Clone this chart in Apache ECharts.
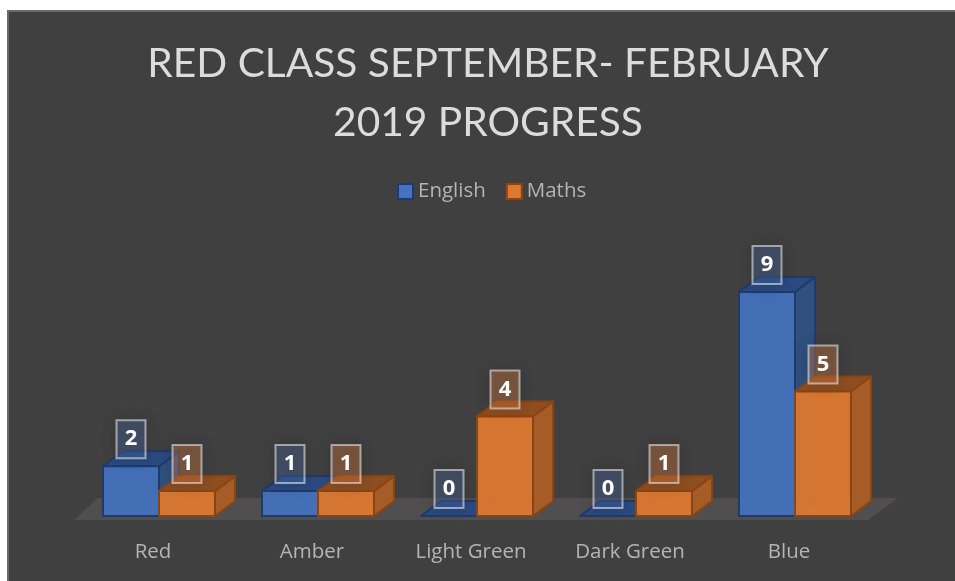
<!DOCTYPE html>
<html><head><meta charset="utf-8">
<style>html,body{margin:0;padding:0;background:#fff}#c{width:955px;height:581px}</style>
<script src="https://cdn.jsdelivr.net/npm/echarts@6/dist/echarts.min.js"></script>
</head><body><div id="c"></div>
<script>
const categories = ['Red','Amber','Light Green','Dark Green','Blue'];
const english = [2,1,0,0,9];
const maths = [1,1,4,1,5];
const titleText = 'RED CLASS SEPTEMBER- FEBRUARY\n2019 PROGRESS';

const DX = 20, DY = 15, BAR = 56/159;
const blue = {front:'rgba(66,112,185,0.96)', top:'#2b4a80', side:'#30507f', stroke:'#203a6c', lab:'rgba(80,120,190,0.3)'};
const orange = {front:'rgba(221,120,48,0.94)', top:'#8e4e20', side:'#a65c27', stroke:'#8b4513', lab:'rgba(237,135,70,0.35)'};

function poly(points, fill, stroke, z2, lw){
  return {type:'polygon', shape:{points}, z2,
    style:{fill, stroke, lineWidth:lw==null?2:lw, lineJoin:'round'}, silent:true};
}
function barRenderer(pal, dir, z){
  return function(params, api){
    const base = api.coord([api.value(0), 0]);
    const top = api.coord([api.value(0), api.value(1)]);
    const w = api.size([1,0])[0]*BAR;
    const x0 = dir<0 ? base[0]-w : base[0], x1 = x0+w, yb = base[1], yt = top[1];
    const kids = [];
    const zero = yt === yb;
    if(!zero){
      kids.push(poly([[x0+DX,yb-DY],[x1+DX,yb-DY],[x1+DX,yt-DY],[x0+DX,yt-DY]], 'rgba(0,0,0,0)', 'rgba(255,255,255,0.06)', z, 1));
      kids.push(poly([[x0,yb],[x0+DX,yb-DY],[x1+DX,yb-DY],[x1,yb]], 'rgba(255,255,255,0.04)', 'rgba(255,255,255,0.06)', z, 1));
      kids.push(poly([[x1,yb],[x1+DX,yb-DY],[x1+DX,yt-DY],[x1,yt]], pal.side, pal.stroke, z));
    }
    kids.push(poly([[x0,yt],[x0+DX,yt-DY],[x1+DX,yt-DY],[x1,yt]], pal.top, pal.stroke, z));
    if(!zero) kids.push(poly([[x0,yb],[x0,yt],[x1,yt],[x1,yb]], pal.front, pal.stroke, z));
    const cx = (x0+x1)/2, cy = yt-27;
    kids.push({type:'rect', shape:{x:cx-14.5,y:cy-19,width:29,height:38}, z2:20, silent:true,
      style:{fill:pal.lab, stroke:'rgba(225,225,225,0.62)', lineWidth:2, shadowBlur:14, shadowColor:'rgba(0,0,0,0.35)'}});
    kids.push({type:'text', z2:21, silent:true, x:cx, y:cy,
      style:{text:String(api.value(1)), fill:'#ffffff', font:'bold 22px "Open Sans"', align:'center', verticalAlign:'middle'}});
    return {type:'group', children:kids};
  };
}
function rows(a){ return a.map((v,i)=>[i,v]); }

const chart = echarts.init(document.getElementById('c'), null, {renderer:'canvas'});
chart.setOption({
  backgroundColor:'#ffffff',
  animation:false,
  graphic:[{type:'rect', z:-10, silent:true, shape:{x:8,y:11,width:950,height:575},
    style:{fill:'#404040', stroke:'#6a6a6a', lineWidth:2}}],
  title:{text:titleText, left:483, top:29, textAlign:'center',
    textStyle:{color:'#dcdcdc', fontFamily:'Lato', fontWeight:'normal', fontSize:40.7, lineHeight:59}},
  legend:{data:['English','Maths'], left:392, top:176, icon:'rect', itemWidth:15, itemHeight:15, itemGap:20,
    textStyle:{color:'#b4b4b4', fontFamily:'Open Sans', fontSize:20.5, padding:[0,0,0,0]}},
  grid:{left:79.5, width:795, top:267, height:249, containLabel:false},
  xAxis:{type:'category', data:categories, axisLine:{show:false}, axisTick:{show:false}, splitLine:{show:false},
    axisLabel:{color:'#b4b4b4', fontFamily:'Open Sans', fontSize:20.5, margin:26, padding:[0,12,0,0]}},
  yAxis:{type:'value', min:0, max:10, show:false, splitLine:{show:false}},
  series:[
    {type:'custom', name:'floor', data:[[0,0]], clip:false, z:1, silent:true,
      renderItem:function(p,api){
        const cs=p.coordSys, x0=cs.x, x1=cs.x+cs.width, y=cs.y+cs.height;
        return {type:'polygon', shape:{points:[[x0-5,y+4],[x1-6,y+4],[x1+23,y-18],[x0+18,y-18]]}, silent:true,
          style:{fill:'#504e4e'}};
      }},
    {type:'custom', name:'English', data:rows(english), encode:{x:0,y:1}, clip:false, z:3,
      itemStyle:{color:'#4472c4', borderColor:'#203a6c', borderWidth:2},
      renderItem:barRenderer(blue,-1,1)},
    {type:'custom', name:'Maths', data:rows(maths), encode:{x:0,y:1}, clip:false, z:3,
      itemStyle:{color:'#dd7830', borderColor:'#8b4513', borderWidth:2},
      renderItem:barRenderer(orange,1,2)}
  ]
});
</script></body></html>
